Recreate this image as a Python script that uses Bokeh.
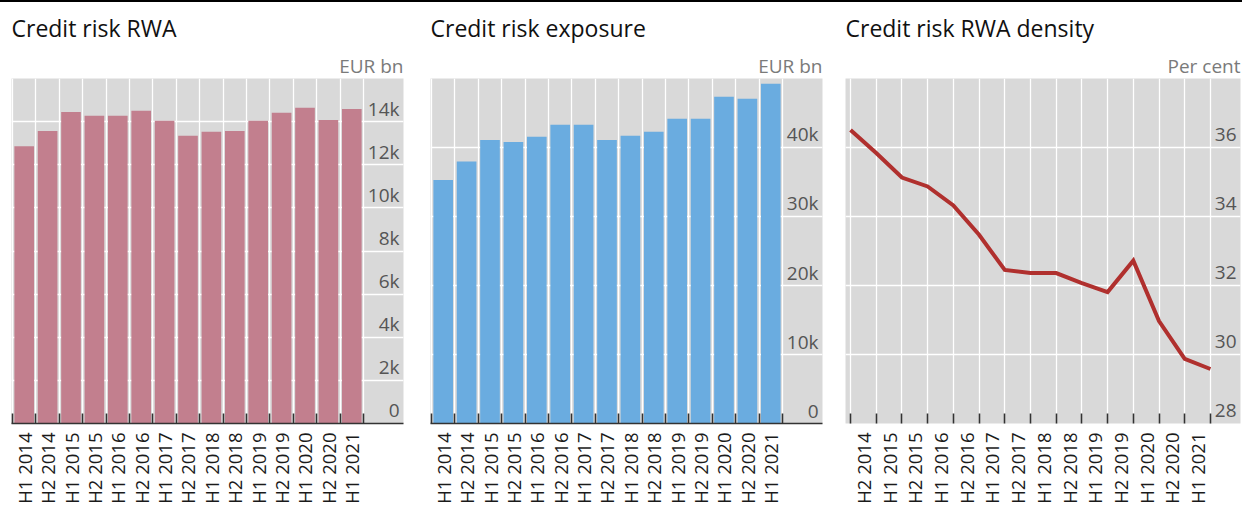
import numpy as np
from bokeh.plotting import figure
from bokeh.models import ColumnDataSource, FixedTicker, LinearAxis, Title, Range1d, Div
from bokeh.layouts import row, column
from bokeh.embed import file_html
from bokeh.resources import INLINE

# ---------------- data ----------------
periods = ["H1 2014", "H2 2014", "H1 2015", "H2 2015", "H1 2016", "H2 2016",
           "H1 2017", "H2 2017", "H1 2018", "H2 2018", "H1 2019", "H2 2019",
           "H1 2020", "H2 2020", "H1 2021"]
rwa = [12860, 13570, 14450, 14270, 14270, 14500, 14040, 13340, 13530, 13570,
       14040, 14410, 14640, 14080, 14590]                       # EUR bn
exposure = [35300, 37970, 41100, 40800, 41550, 43300, 43300, 41100, 41700,
            42280, 44170, 44170, 47360, 47070, 49250]           # EUR bn
density = [36.51, 35.84, 35.13, 34.87, 34.32, 33.47, 32.45, 32.36, 32.36,
           32.07, 31.81, 32.72, 30.97, 29.87, 29.58]            # per cent

rwa_ticks = [0, 2000, 4000, 6000, 8000, 10000, 12000, 14000]
rwa_tick_labels = ["0", "2k", "4k", "6k", "8k", "10k", "12k", "14k"]
exp_ticks = [0, 10000, 20000, 30000, 40000]
exp_tick_labels = ["0", "10k", "20k", "30k", "40k"]
dens_ticks = [28, 30, 32, 34, 36]
dens_tick_labels = ["28", "30", "32", "34", "36"]

titles = ["Credit risk RWA", "Credit risk exposure", "Credit risk RWA density"]
units = ["EUR bn", "EUR bn", "Per cent"]

FONT = "Open Sans"
BG = "#d9d9d9"
RWA_COLOR = "#c27f8e"
EXP_COLOR = "#6aace0"
LINE_COLOR = "#b0302e"
FIG_H = 507
FRAME_H = 345
LABEL_SHIFT_PX = 13


def make_fig(width, title, unit, xr, yr, left, right):
    p = figure(width=width, height=FIG_H, x_range=xr, y_range=yr, title=None,
               toolbar_location=None, output_backend="svg",
               x_axis_location=None, y_axis_location=None,
               min_border_left=left, min_border_right=right,
               min_border_top=0, min_border_bottom=86)
    p.background_fill_color = BG
    p.border_fill_color = "white"
    p.outline_line_color = None
    p.add_layout(Title(text=unit, align="right", text_font=FONT, text_font_size="19px",
                       text_font_style="normal", text_color="#7a7a7a", standoff=0), "above")
    p.add_layout(Title(text=title, align="left", text_font=FONT, text_font_size="23px",
                       text_font_style="normal", text_color="#111111", standoff=14,
                       text_line_height=0.75), "above")
    p.grid.grid_line_color = "white"
    p.grid.grid_line_width = 1.3
    return p


def add_y_axis(p, ticks, labels):
    yr = p.y_range
    off = round(LABEL_SHIFT_PX * (yr.end - yr.start) / FRAME_H, 2)
    pos = [round(t + off, 2) for t in ticks]
    ax = LinearAxis(fixed_location=p.x_range.end,
                    ticker=FixedTicker(ticks=pos),
                    major_label_overrides={k: v for k, v in zip(pos, labels)})
    ax.axis_line_color = None
    ax.major_tick_in = 0
    ax.major_tick_out = 0
    ax.minor_tick_in = 0
    ax.minor_tick_out = 0
    ax.major_label_standoff = 4
    ax.major_label_text_font = FONT
    ax.major_label_text_font_size = "19px"
    ax.major_label_text_color = "#555555"
    p.add_layout(ax, "left")
    p.ygrid.ticker = FixedTicker(ticks=ticks)


def add_x_axis(p, centers, labels, bounds, axis_line=True):
    ax = LinearAxis(ticker=FixedTicker(ticks=centers, minor_ticks=bounds),
                    major_label_overrides={k: v for k, v in zip(centers, labels)})
    ax.major_label_orientation = np.pi / 2
    ax.major_tick_in = 0
    ax.major_tick_out = 0
    ax.minor_tick_in = 10
    ax.minor_tick_out = 0
    ax.minor_tick_line_color = "#333333"
    ax.minor_tick_line_width = 1.6
    ax.axis_line_color = "#333333" if axis_line else None
    ax.axis_line_width = 1.4
    ax.major_label_standoff = 9
    ax.major_label_text_font = FONT
    ax.major_label_text_font_size = "18.5px"
    ax.major_label_text_color = "#1a1a1a"
    p.add_layout(ax, "below")
    p.xgrid.ticker = FixedTicker(ticks=bounds)


n = len(periods)
x_idx = list(range(n))
bar_bounds = [i - 0.5 for i in range(n + 1)]
src = ColumnDataSource(dict(x=x_idx, period=periods, rwa=rwa, exposure=exposure, density=density))

# Panel 1
p1 = make_fig(420, titles[0], units[0], Range1d(-0.543, 16.21), Range1d(0, 16000), 11, 17)
p1.vbar(x="x", top="rwa", width=0.84, source=src, fill_color=RWA_COLOR, line_color=None)
add_y_axis(p1, rwa_ticks, rwa_tick_labels)
add_x_axis(p1, x_idx, periods, bar_bounds)

# Panel 2
p2 = make_fig(420, titles[1], units[1], Range1d(-0.543, 16.21), Range1d(0, 50000), 10, 18)
p2.vbar(x="x", top="exposure", width=0.84, source=src, fill_color=EXP_COLOR, line_color=None)
add_y_axis(p2, exp_ticks, exp_tick_labels)
add_x_axis(p2, x_idx, periods, bar_bounds)

# Panel 3
p3 = make_fig(402, titles[2], units[2], Range1d(-0.195, 15.17), Range1d(28, 38), 5, 2)
p3.line(x="x", y="density", source=src, line_color=LINE_COLOR, line_width=4, line_join="miter")
add_y_axis(p3, dens_ticks, dens_tick_labels)
line_centers = [i + 0.5 for i in range(n - 1)]
add_x_axis(p3, line_centers, periods[1:], x_idx, axis_line=False)

top_rule = Div(text="", width=1242, height=2, margin=0,
               styles={"background-color": "#000000"})
layout = column(top_rule, row(p1, p2, p3, spacing=0), spacing=0)

open("out.html", "w").write(file_html(layout, INLINE))
